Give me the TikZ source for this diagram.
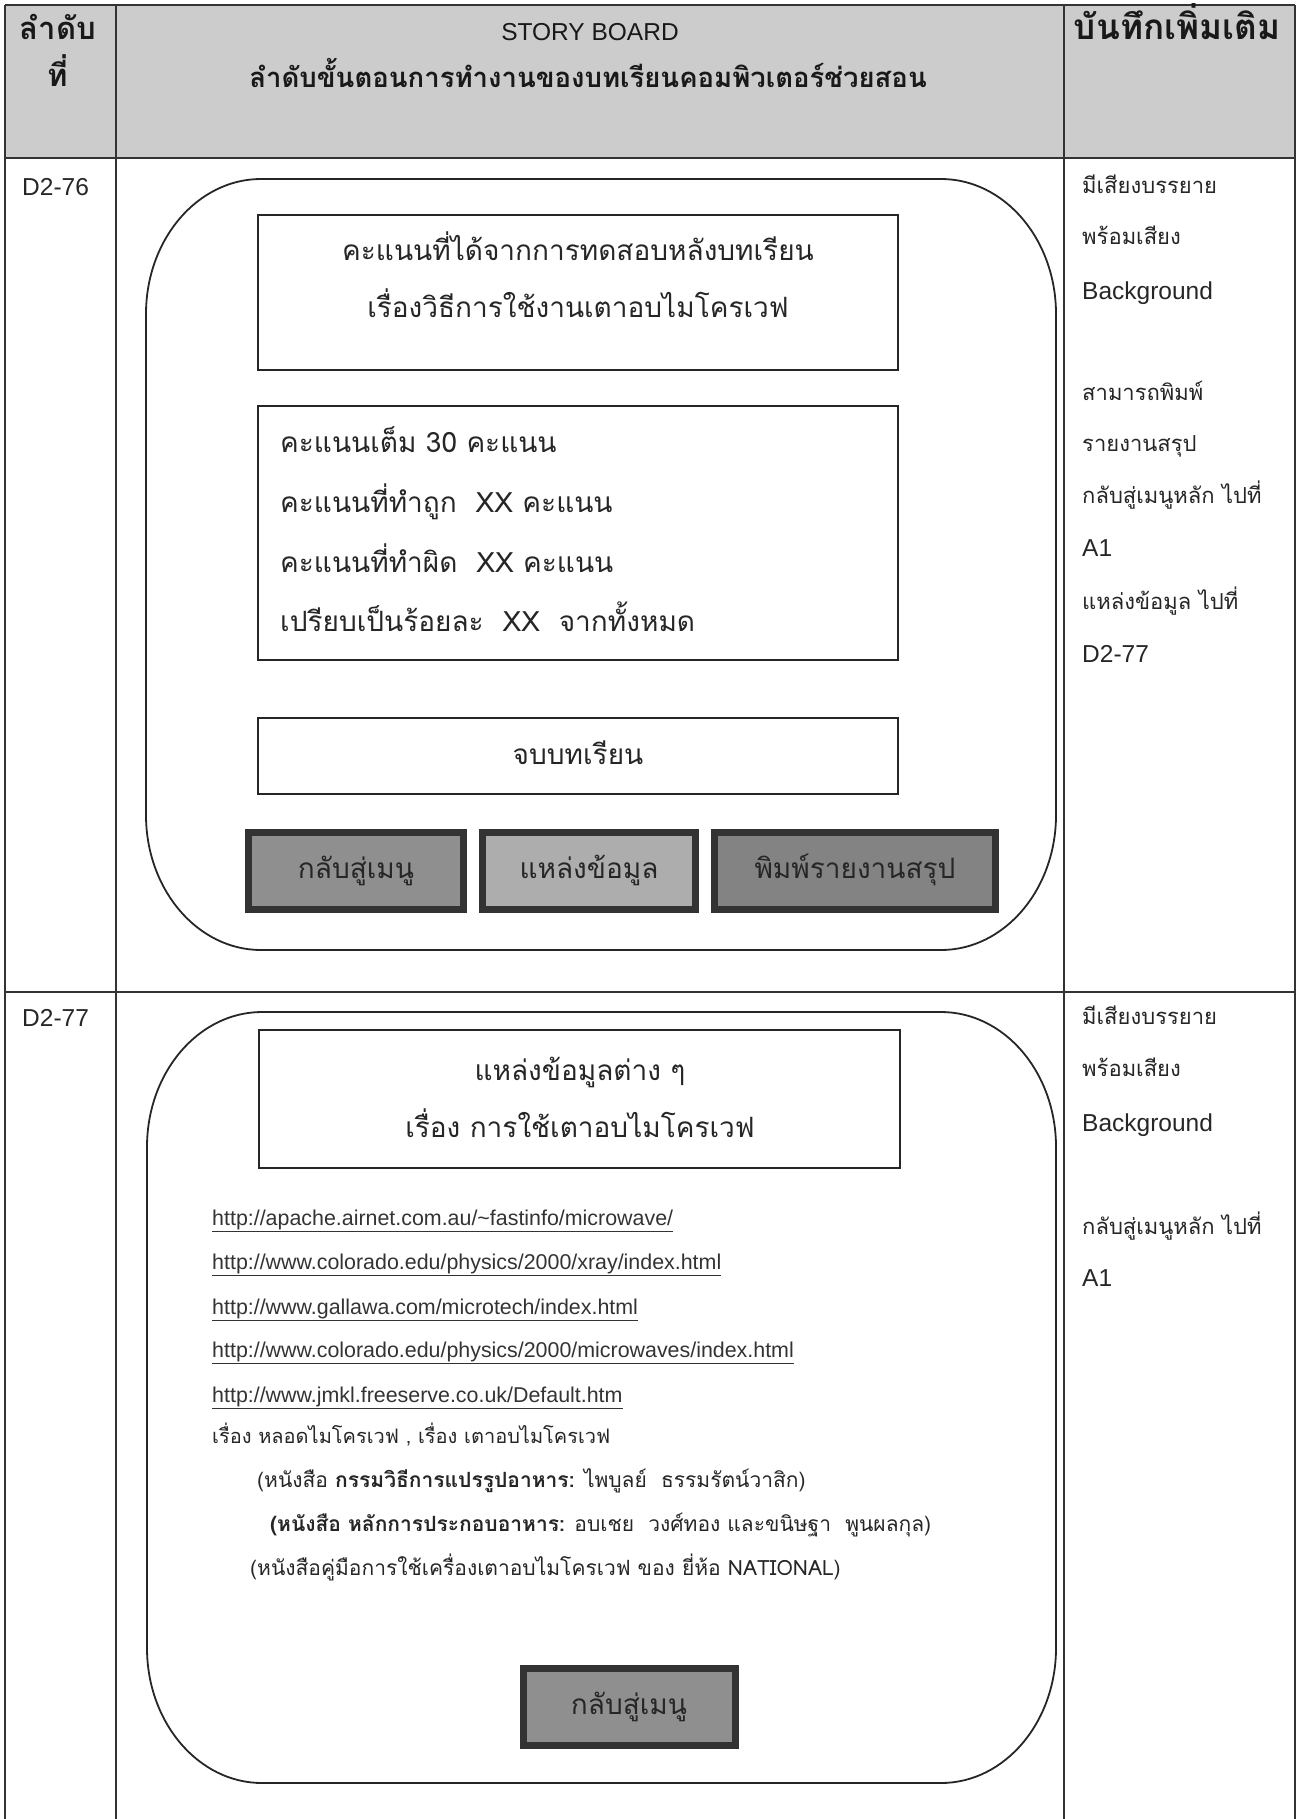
\documentclass[tikz,border=0pt]{standalone}
\usepackage{fontspec}
\setmainfont{Liberation Sans}
\newfontfamily\thai[Script=Thai]{Loma}

\definecolor{headgray}{gray}{0.80}
\definecolor{btnedge}{gray}{0.20}
\definecolor{btndark}{gray}{0.56}
\definecolor{btnlight}{gray}{0.68}

% corner radii of the screen frames
\newcommand{\scrx}{115}
\newcommand{\scry}{135}
% screen frame: x1 y1 x2 y2
\newcommand{\screenframe}[4]{%
  \draw[screen] ({#1+\scrx},#2) -- ({#3-\scrx},#2)
    .. controls ({#3-0.448*\scrx},#2) and (#3,{#2+0.448*\scry}) .. (#3,{#2+\scry})
    -- (#3,{#4-\scry})
    .. controls (#3,{#4-0.448*\scry}) and ({#3-0.448*\scrx},#4) .. ({#3-\scrx},#4)
    -- ({#1+\scrx},#4)
    .. controls ({#1+0.448*\scrx},#4) and (#1,{#4-0.448*\scry}) .. (#1,{#4-\scry})
    -- (#1,{#2+\scry})
    .. controls (#1,{#2+0.448*\scry}) and ({#1+0.448*\scrx},#2) .. cycle;}

\tikzset{
  rule/.style={line width=1.4pt, black!80},
  screen/.style={line width=1.8pt, black!85},
  panel/.style={draw=black!85, line width=1.8pt},
  btn/.style={draw=btnedge, line width=7pt, inner sep=0pt, text=black!85,
    font=\thai\fontsize{28}{32}\selectfont, text height=15pt, text depth=0pt},
  headtxt/.style={inner sep=0pt, text=black!90,
    font=\thai\bfseries\fontsize{31}{35}\selectfont, text height=16pt, text depth=0pt},
  big/.style={inner sep=0pt, text=black!85,
    font=\thai\fontsize{28}{32}\selectfont, text height=15pt, text depth=0pt},
  note/.style={anchor=west, inner sep=0pt, text=black!85,
    font=\thai\fontsize{22}{26}\selectfont, text height=12pt, text depth=0pt},
  latin/.style={anchor=west, inner sep=0pt, text=black!85,
    font=\fontsize{24.5}{28}\selectfont, text height=17.5pt, text depth=0pt},
  link/.style={anchor=west, inner sep=0pt, text=black!80,
    font=\fontsize{21.4}{25}\selectfont, text height=15pt, text depth=0pt},
  small/.style={anchor=west, inner sep=0pt, text=black!85,
    font=\thai\fontsize{20}{24}\selectfont, text height=11pt, text depth=0pt},
}

\begin{document}
\begin{tikzpicture}[x=1pt,y=-1pt]
  \useasboundingbox (0,0) rectangle (1298,1819);

  % table
  \fill[headgray] (5,5) rectangle (1295,158);
  \draw[rule] (5,5) -- (1295,5); % top
  \draw[rule, line width=2.4pt] (5,158) -- (1295,158); % header bottom
  \draw[rule, line width=2.4pt] (5,992) -- (1295,992); % row divider
  \draw[rule] (5,5) -- (5,1819);
  \draw[rule] (116,5) -- (116,1819);
  \draw[rule] (1064,5) -- (1064,1819);
  \draw[rule] (1295,5) -- (1295,1819);

  % header
  \node[headtxt] (hno) at (58,32) {ลำดับ};
  \node[headtxt] (hno2) at (58,79) {ที่};
  \node[inner sep=0pt, font=\fontsize{24.5}{28}\selectfont, text=black!90] (htitle) at (590,32) {STORY BOARD};
  \node[headtxt, font=\thai\bfseries\fontsize{27.5}{32}\selectfont] (hsub) at (588,80) {ลำดับขั้นตอนการทำงานของบทเรียนคอมพิวเตอร์ช่วยสอน};
  \node[headtxt, font=\thai\bfseries\fontsize{35}{40}\selectfont] (hnote) at (1177,32) {บันทึกเพิ่มเติม};

  %row D2-76
  \node[latin] (id76) at (22,187) {D2-76};
  \screenframe{146}{179}{1056}{950}

  \draw[panel] (258,215) rectangle (898,370); % title box
  \node[big] (scoreA) at (578,253) {คะแนนที่ได้จากการทดสอบหลังบทเรียน};
  \node[big] (scoreB) at (578,310) {เรื่องวิธีการใช้งานเตาอบไมโครเวฟ};

  \draw[panel] (258,406) rectangle (898,660); % score box
  \node[big, anchor=west] (full) at (280,445) {คะแนนเต็ม 30 คะแนน};
  \node[big, anchor=west] (right) at (280,505) {คะแนนที่ทำถูก\ \ XX คะแนน};
  \node[big, anchor=west] (wrong) at (280,565) {คะแนนที่ทำผิด\ \ XX คะแนน};
  \node[big, anchor=west] (pct) at (280,624) {เปรียบเป็นร้อยละ\ \ XX\ \ จากทั้งหมด};

  \draw[panel] (258,718) rectangle (898,794); % end box
  \node[big] (finish) at (578,757) {จบบทเรียน};

  \node[btn, fill=btndark, minimum width=215pt, minimum height=77pt] (menuA) at (356,871) {กลับสู่เมนู};
  \node[btn, fill=btnlight, minimum width=213pt, minimum height=77pt] (srcA) at (589,871) {แหล่งข้อมูล};
  \node[btn, fill=btndark!92!black, minimum width=281pt, minimum height=77pt] (print) at (855,871) {พิมพ์รายงานสรุป};

  \node[note] (n1) at (1082,188) {มีเสียงบรรยาย};
  \node[note] (n2) at (1082,239) {พร้อมเสียง};
  \node[latin] (n3) at (1082,291) {Background};
  \node[note] (n4) at (1082,394) {สามารถพิมพ์};
  \node[note] (n5) at (1082,445) {รายงานสรุป};
  \node[note] (n6) at (1082,497) {กลับสู่เมนูหลัก ไปที่};
  \node[latin] (n7) at (1082,548) {A1};
  \node[note] (n8) at (1082,603) {แหล่งข้อมูล ไปที่};
  \node[latin] (n9) at (1082,654) {D2-77};

  %row D2-77
  \node[latin] (id77) at (22,1018) {D2-77};
  \screenframe{147}{1012}{1056}{1783}

  \draw[panel] (259,1030) rectangle (900,1168); % title box
  \node[big] (srcT) at (580,1073) {แหล่งข้อมูลต่าง ๆ};
  \node[big] (srcS) at (580,1130) {เรื่อง การใช้เตาอบไมโครเวฟ};

  \node[link] (url1) at (212,1218) {\underline{http://apache.airnet.com.au/\textasciitilde fastinfo/microwave/}};
  \node[link] (url2) at (212,1262) {\underline{http://www.colorado.edu/physics/2000/xray/index.html}};
  \node[link] (url3) at (212,1307) {\underline{http://www.gallawa.com/microtech/index.html}};
  \node[link] (url4) at (212,1350) {\underline{http://www.colorado.edu/physics/2000/microwaves/index.html}};
  \node[link] (url5) at (212,1395) {\underline{http://www.jmkl.freeserve.co.uk/Default.htm}};
  \node[small] (topic) at (212,1438) {เรื่อง หลอดไมโครเวฟ , เรื่อง เตาอบไมโครเวฟ};
  \node[small, font=\thai\fontsize{21}{25}\selectfont] (book1) at (257,1482) {(หนังสือ \textbf{กรรมวิธีการแปรรูปอาหาร:} ไพบูลย์\ \ ธรรมรัตน์วาสิก)};
  \node[small, font=\thai\fontsize{21}{25}\selectfont] (book2) at (270,1526) {\textbf{(หนังสือ หลักการประกอบอาหาร:} อบเชย\ \ วงศ์ทอง และขนิษฐา\ \ พูนผลกุล)};
  \node[small, font=\thai\fontsize{21}{25}\selectfont] (book3) at (250,1570) {(หนังสือคู่มือการใช้เครื่องเตาอบไมโครเวฟ ของ ยี่ห้อ NATIONAL)};

  \node[btn, fill=btndark, minimum width=212pt, minimum height=77pt] (menuB) at (629,1707) {กลับสู่เมนู};

  \node[note] (m1) at (1082,1018) {มีเสียงบรรยาย};
  \node[note] (m2) at (1082,1070) {พร้อมเสียง};
  \node[latin] (m3) at (1082,1123) {Background};
  \node[note] (m4) at (1082,1228) {กลับสู่เมนูหลัก ไปที่};
  \node[latin] (m5) at (1082,1278) {A1};
\end{tikzpicture}
\end{document}
